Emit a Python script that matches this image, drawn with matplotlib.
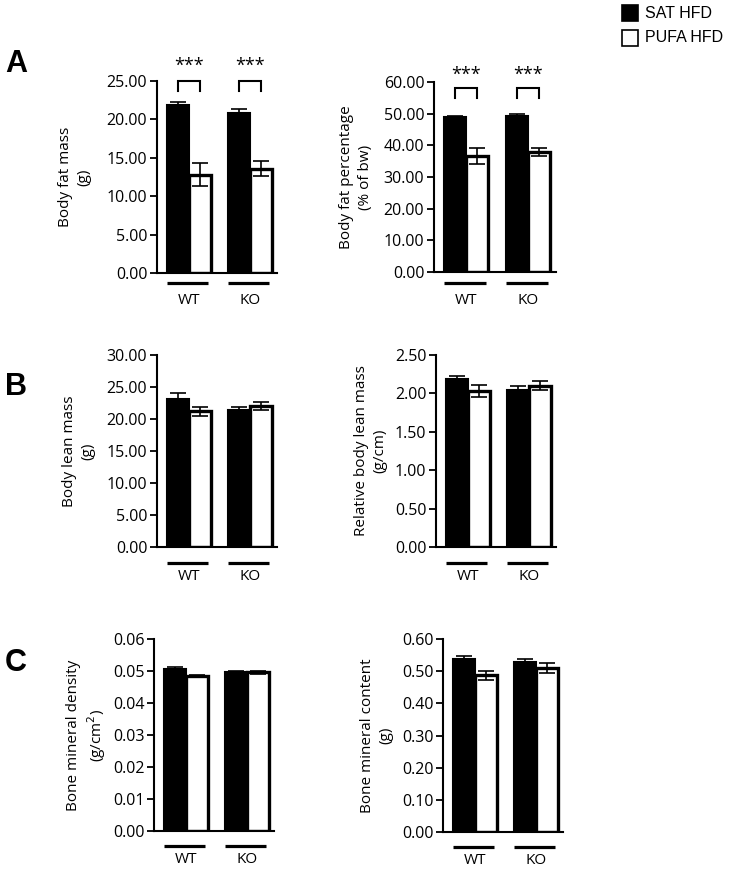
import matplotlib
matplotlib.use("Agg")
import matplotlib.pyplot as plt
from matplotlib.patches import Rectangle
from matplotlib.ticker import FormatStrFormatter

# dados (media, erro)
grupos = ["WT", "KO"]
dietas = ["SAT HFD", "PUFA HFD"]

fat_mass_sat = [21.9, 20.8]
fat_mass_sat_err = [0.4, 0.6]
fat_mass_pufa = [12.8, 13.6]
fat_mass_pufa_err = [1.5, 1.0]

fat_pct_sat = [48.9, 49.3]
fat_pct_sat_err = [0.3, 0.5]
fat_pct_pufa = [36.5, 37.8]
fat_pct_pufa_err = [2.5, 1.3]

lean_mass_sat = [23.2, 21.4]
lean_mass_sat_err = [0.8, 0.5]
lean_mass_pufa = [21.2, 22.0]
lean_mass_pufa_err = [0.7, 0.6]

rel_lean_sat = [2.19, 2.05]
rel_lean_sat_err = [0.04, 0.04]
rel_lean_pufa = [2.03, 2.10]
rel_lean_pufa_err = [0.08, 0.06]

bmd_sat = [0.0506, 0.0498]
bmd_sat_err = [0.0005, 0.0002]
bmd_pufa = [0.0485, 0.0496]
bmd_pufa_err = [0.0004, 0.0005]

bmc_sat = [0.537, 0.527]
bmc_sat_err = [0.010, 0.012]
bmc_pufa = [0.487, 0.510]
bmc_pufa_err = [0.014, 0.016]

W, H = 733, 872
LABEL_FONT = ["Open Sans", "DejaVu Sans"]
ARIAL = ["Liberation Sans", "DejaVu Sans"]
FS = 11

fig = plt.figure(figsize=(W / 100, H / 100), dpi=100)


def px_axes(x, y, w, h):
    # x, y = canto superior esquerdo em pixels
    return fig.add_axes([x / W, 1 - (y + h) / H, w / W, h / H])


def painel(box, sat, sat_err, pufa, pufa_err, ymax, step, ylabel, label_x, line_off, txt_off, stars=None):
    ax = px_axes(*box)
    x = [0, 1]
    bw = 0.36
    xs = [i - bw / 2 for i in x]
    xp = [i + bw / 2 for i in x]
    ax.bar(xs, sat, bw, color="black", edgecolor="black", linewidth=1.5, zorder=2)
    ax.bar(xp, pufa, bw, color="white", edgecolor="black", linewidth=2.4, zorder=2)
    ax.errorbar(xs, sat, yerr=sat_err, fmt="none", ecolor="black", elinewidth=1.2, capsize=6, capthick=1.2, zorder=3)
    ax.errorbar(xp, pufa, yerr=pufa_err, fmt="none", ecolor="black", elinewidth=1.2, capsize=6, capthick=1.2, zorder=3)

    ax.set_xlim(-0.52, 1.45)
    ax.set_ylim(0, ymax)
    ticks = [i * step for i in range(int(round(ymax / step)) + 1)]
    ax.set_yticks(ticks)
    ax.yaxis.set_major_formatter(FormatStrFormatter("%.2f"))
    ax.set_xticks([])
    for s in ["top", "right"]:
        ax.spines[s].set_visible(False)
    for s in ["left", "bottom"]:
        ax.spines[s].set_linewidth(1.5)
    ax.tick_params(axis="y", direction="out", length=5, width=1.3, labelsize=11.5, pad=2)
    for t in ax.get_yticklabels():
        t.set_family(LABEL_FONT)

    # linha e rotulo de grupo abaixo do eixo
    h = box[3]
    for i, g in enumerate(grupos):
        ax.plot([x[i] - 0.36, x[i] + 0.32], [-line_off / h, -line_off / h], color="black", lw=2.3,
                transform=ax.get_xaxis_transform(), clip_on=False, solid_capstyle="butt")
        ax.text(x[i], -(line_off + txt_off) / h, g, transform=ax.get_xaxis_transform(), ha="center", va="center",
                fontsize=FS, family=LABEL_FONT)

    # titulo do eixo y
    fig.text(label_x / W, 1 - (box[1] + h / 2) / H, ylabel, rotation=90, ha="center", va="center",
             multialignment="center", fontsize=FS, family=LABEL_FONT, linespacing=1.3)

    if stars:
        top, leg, ys = stars
        for i in x:
            ax.plot([xs[i], xs[i], xp[i], xp[i]], [leg, top, top, leg], color="black", lw=1.5,
                    clip_on=False, solid_joinstyle="miter")
            ax.text(i, ys, "***", ha="center", va="center", fontsize=13, family=LABEL_FONT, clip_on=False)
    return ax


# A
painel((157, 81, 120, 192), fat_mass_sat, fat_mass_sat_err, fat_mass_pufa, fat_mass_pufa_err,
       25, 5, "Body fat mass\n(g)", 75, 10, 18, stars=(25.0, 23.7, 27.0))
painel((434, 82, 122, 190), fat_pct_sat, fat_pct_sat_err, fat_pct_pufa, fat_pct_pufa_err,
       60, 10, "Body fat percentage\n(% of bw)", 356, 11, 18, stars=(58.2, 55.0, 62.2))
# B
painel((157, 355, 120, 192), lean_mass_sat, lean_mass_sat_err, lean_mass_pufa, lean_mass_pufa_err,
       30, 5, "Body lean mass\n(g)", 79, 16, 13)
painel((436, 355, 120, 192), rel_lean_sat, rel_lean_sat_err, rel_lean_pufa, rel_lean_pufa_err,
       2.5, 0.5, "Relative body lean mass\n(g/cm)", 371, 16, 13)
# C
painel((154, 639, 120, 192), bmd_sat, bmd_sat_err, bmd_pufa, bmd_pufa_err,
       0.06, 0.01, "Bone mineral density\n(g/cm$^2$)", 87, 15, 13)
painel((443, 639, 120, 193), bmc_sat, bmc_sat_err, bmc_pufa, bmc_pufa_err,
       0.6, 0.1, "Bone mineral content\n(g)", 377, 15, 13)

# letras dos paineis
for letra, y in [("A", 64), ("B", 387), ("C", 663)]:
    fig.text(5 / W, 1 - y / H, letra, fontsize=22, fontweight="bold", family=ARIAL, va="center", ha="left")

# legenda
for i, (nome, cor) in enumerate(zip(dietas, ["black", "white"])):
    yc = 13 + 25 * i
    fig.add_artist(Rectangle((622 / W, 1 - (yc + 8) / H), 16 / W, 16 / H, transform=fig.transFigure,
                             facecolor=cor, edgecolor="black", linewidth=1.2))
    fig.text(645 / W, 1 - yc / H, nome, fontsize=11.5, family=ARIAL, va="center", ha="left")

fig.savefig("out.png", dpi=100)
